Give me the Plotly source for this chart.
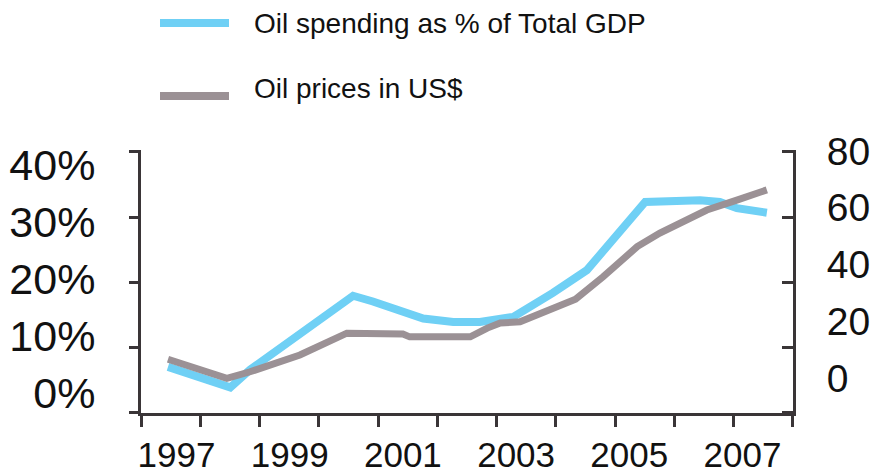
import plotly.graph_objects as go

# ---- data ----
year_labels = ["1997", "1999", "2001", "2003", "2005", "2007"]
year_ticks = [1997, 1999, 2001, 2003, 2005, 2007]

pct_ticks = [0, 10, 20, 30, 40]
pct_labels = ["0%", "10%", "20%", "30%", "40%"]
usd_ticks = [0, 20, 40, 60, 80]
usd_labels = ["0", "20", "40", "60", "80"]

spend_t = [1996.85, 1997.95, 1998.30, 1999.18, 2000.12, 2000.47, 2000.95, 2001.36,
           2001.89, 2002.36, 2002.95, 2003.42, 2003.65, 2004.25, 2004.84, 2005.28,
           2006.25, 2006.60, 2006.90, 2007.43]
spend_pct = [4.5, 0.9, 4.0, 10.4, 17.0, 16.0, 14.2, 13.0,
             12.4, 12.4, 13.3, 16.0, 17.5, 21.5, 28.6, 33.5,
             33.8, 33.5, 32.4, 31.6]

price_t = [1996.85, 1997.89, 1998.30, 1999.18, 2000.01, 2001.00, 2001.12, 2002.19,
           2002.49, 2002.72, 2003.07, 2004.05, 2004.54, 2005.14, 2005.54, 2006.02,
           2006.37, 2006.90, 2007.43]
price_usd = [6.6, -0.1, 2.2, 8.1, 15.8, 15.5, 14.5, 14.5,
             17.6, 19.4, 19.8, 27.8, 35.7, 46.3, 51.1, 55.7,
             59.2, 62.7, 66.3]

legend_names = ["Oil spending as % of Total GDP", "Oil prices in US$"]
colors = ["#6fd0f5", "#9b9195"]

FONT = "Liberation Sans, Arial, sans-serif"
AX = "#3a3537"

# axis ranges
X_RANGE = [1996.373, 2007.892]
Y_RANGE = [-3.60, 42.62]
Y2_RANGE = [-12.33, 80.35]

# tick-mark positions (the scanned axes carry their marks apart from the labels)
x_marks = [X_RANGE[0] + 0.002 + i * (X_RANGE[1] - X_RANGE[0] - 0.004) / 11 for i in range(12)]
y_marks = [Y_RANGE[0] + 0.01 + i * 11.467 for i in range(5)]
y2_marks = [Y2_RANGE[0] + 0.02 + i * 22.995 for i in range(5)]

fig = go.Figure()
fig.add_trace(go.Scatter(x=spend_t, y=spend_pct, mode="lines", name=legend_names[0],
                         line=dict(color=colors[0], width=8), xaxis="x", yaxis="y",
                         showlegend=False))
fig.add_trace(go.Scatter(x=price_t, y=price_usd, mode="lines", name=legend_names[1],
                         line=dict(color=colors[1], width=7), xaxis="x", yaxis="y2",
                         showlegend=False))

# manual legend (symbols + text)
W, H, L, B = 652, 263, 141, 413
def px(x): return (x - L) / W
def py(y): return (B - y) / H

for i, (yy, ty) in enumerate([(23, 23), (96, 89)]):
    fig.add_shape(type="line", xref="paper", yref="paper",
                  x0=px(160), x1=px(229), y0=py(yy), y1=py(yy),
                  line=dict(color=colors[i], width=8))
    fig.add_annotation(text=legend_names[i], xref="paper", yref="paper",
                       x=px(252), y=py(ty), xanchor="left", yanchor="middle",
                       showarrow=False, font=dict(family=FONT, size=28, color="#111"))

common = dict(showgrid=False, zeroline=False, automargin=False)

fig.update_layout(
    width=876, height=476,
    margin=dict(l=141, r=83, t=150, b=63),
    paper_bgcolor="white", plot_bgcolor="white",
    font=dict(family=FONT, color="#111"),
    xaxis=dict(range=X_RANGE, tickvals=year_ticks, ticktext=year_labels,
               ticks="outside", ticklen=9, tickcolor="rgba(0,0,0,0)",
               showline=True, linecolor=AX, linewidth=3,
               minor=dict(tickvals=x_marks, ticks="outside", ticklen=11, tickwidth=3,
                          tickcolor=AX),
               tickfont=dict(size=35, family=FONT, color="#111"), **common),
    yaxis=dict(range=Y_RANGE, tickvals=pct_ticks, ticktext=pct_labels,
               ticks="outside", ticklen=34, tickcolor="rgba(0,0,0,0)",
               showline=True, linecolor=AX, linewidth=3,
               minor=dict(tickvals=y_marks, ticks="outside", ticklen=9, tickwidth=3,
                          tickcolor=AX),
               tickfont=dict(size=43, family=FONT, color="#111"), **common),
    yaxis2=dict(overlaying="y", side="right", anchor="x", range=Y2_RANGE,
                tickvals=usd_ticks, ticktext=usd_labels,
                ticks="outside", ticklen=23, tickcolor="rgba(0,0,0,0)",
                showline=True, linecolor=AX, linewidth=3,
                minor=dict(tickvals=y2_marks, ticks="inside", ticklen=11, tickwidth=3,
                           tickcolor=AX),
                tickfont=dict(size=39, family=FONT, color="#111"), **common),
)

fig.write_html("out.html")
